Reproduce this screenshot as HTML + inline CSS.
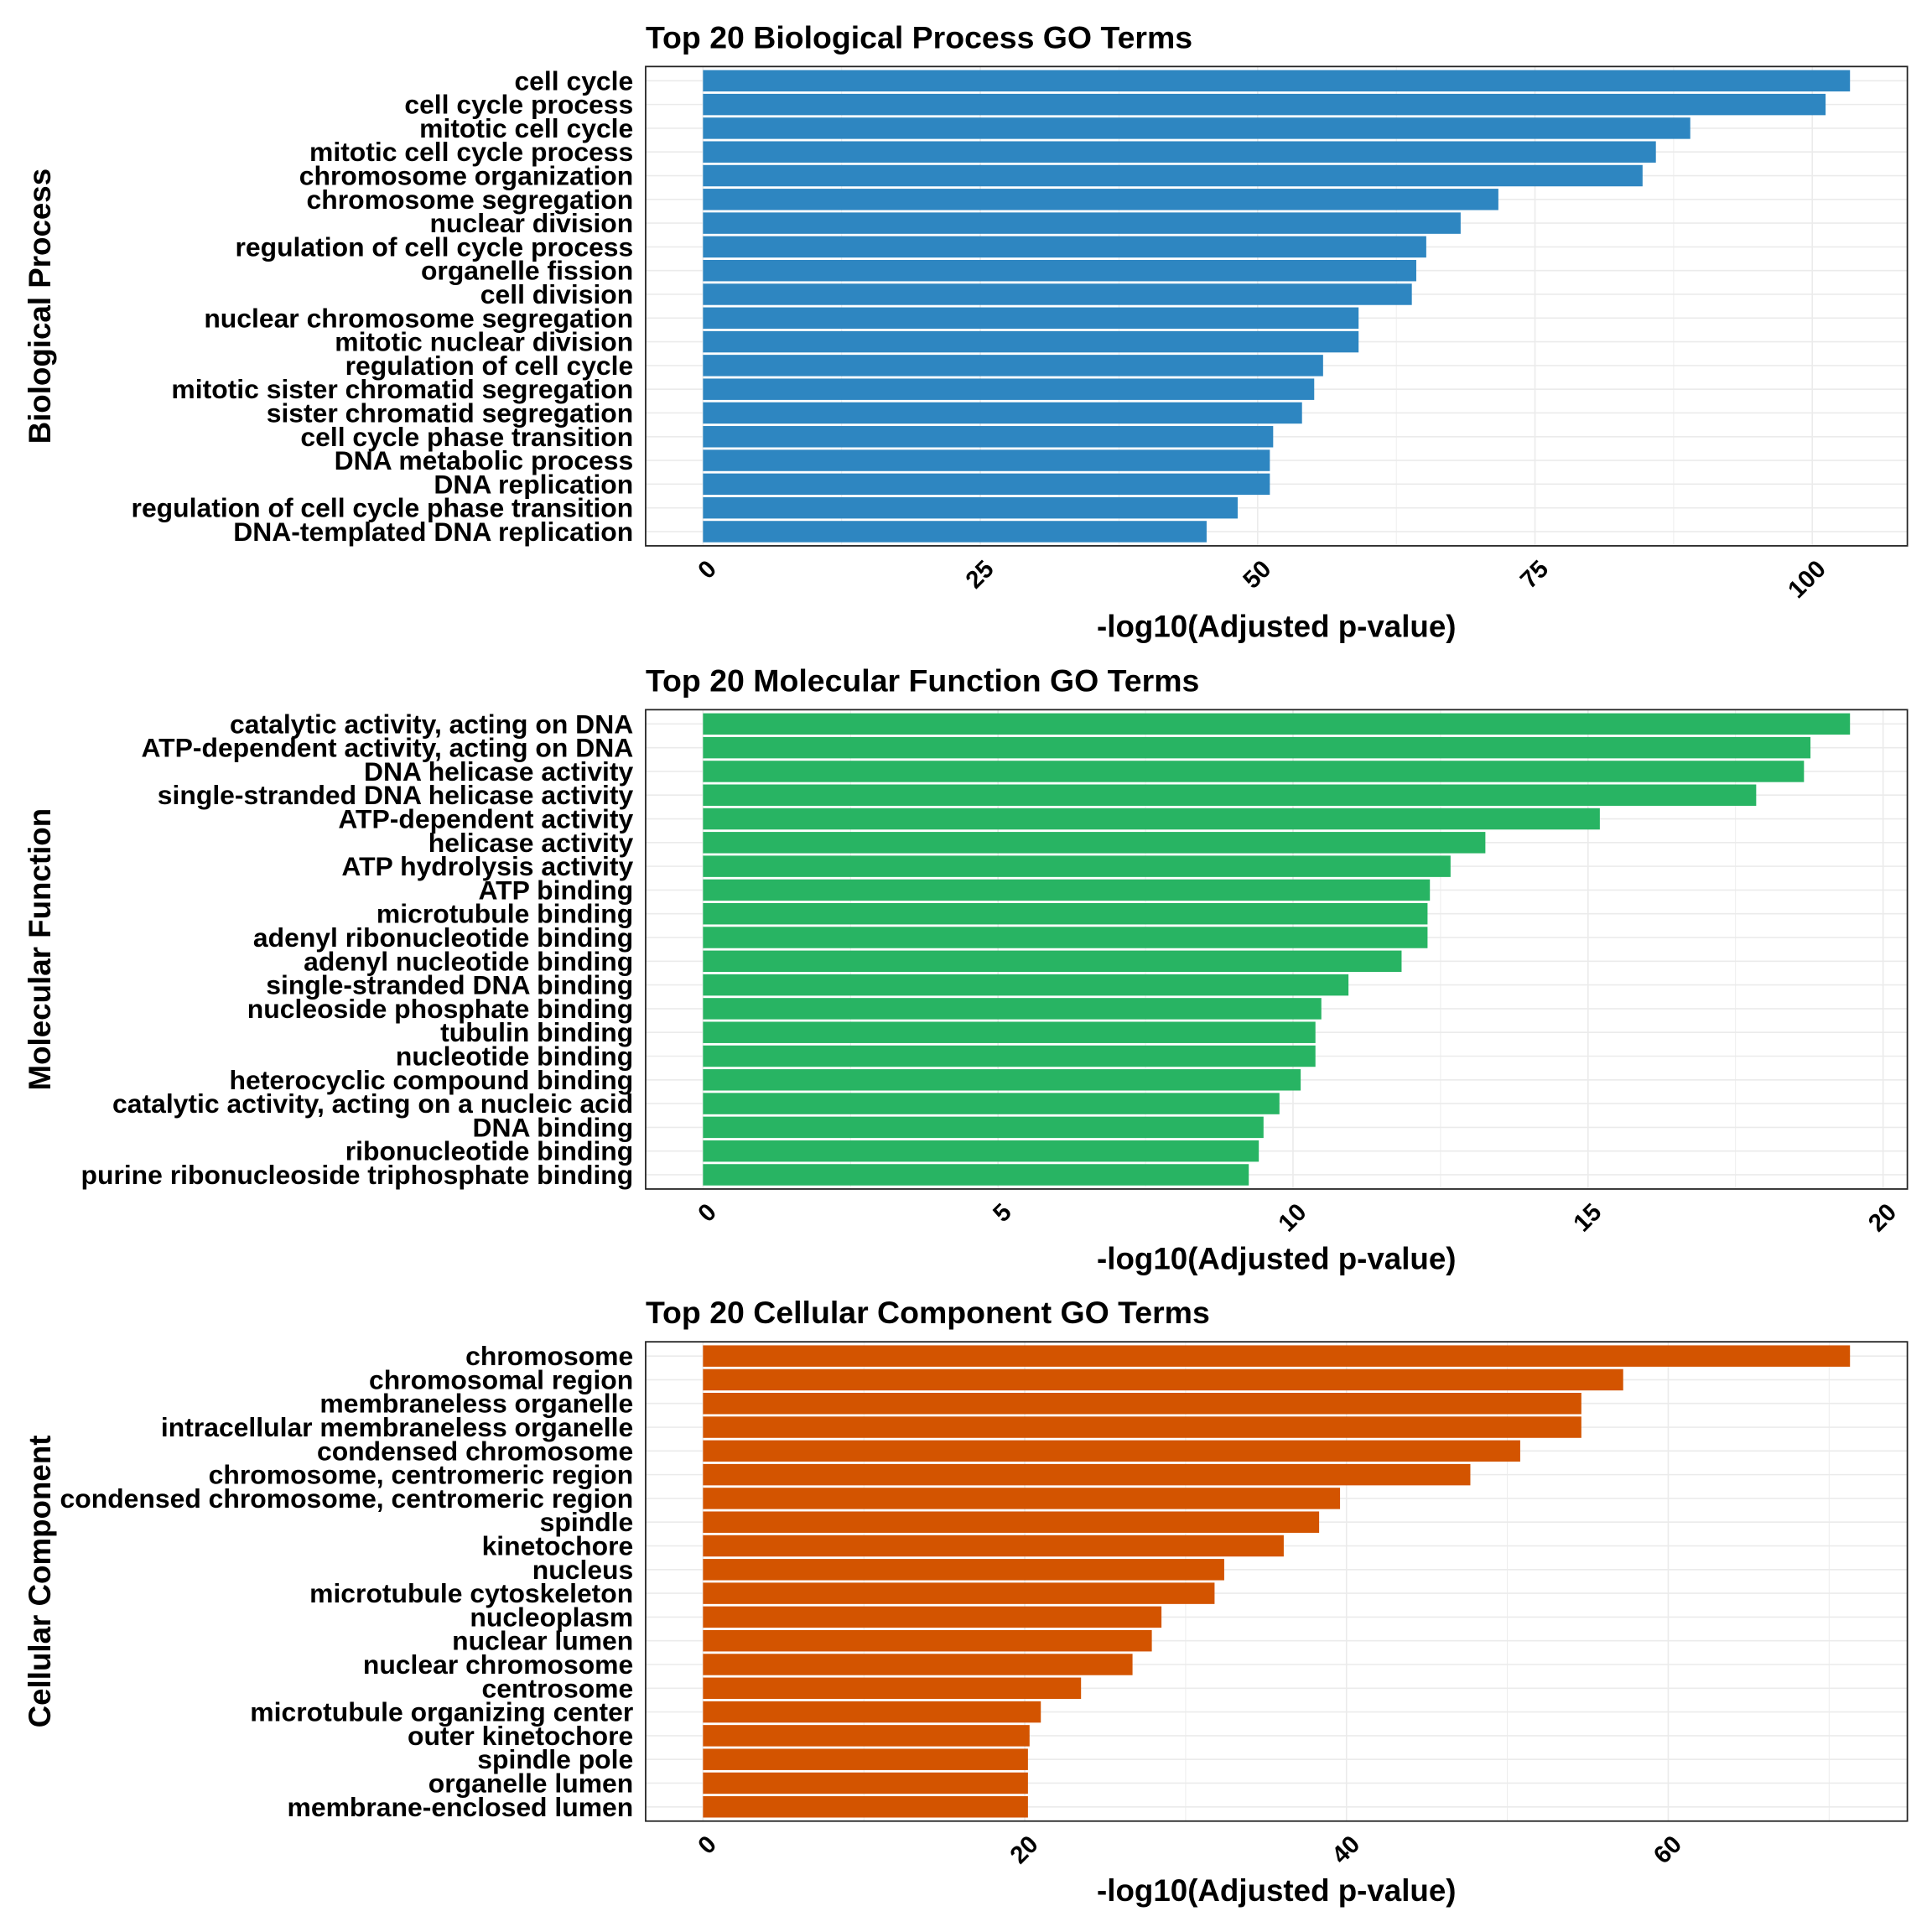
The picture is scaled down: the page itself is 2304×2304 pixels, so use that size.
<!DOCTYPE html>
<html><head><meta charset="utf-8"><style>
html,body{margin:0;padding:0;background:#fff}
svg{display:block;font-family:"Liberation Sans",Arial,sans-serif;font-weight:bold}
</style></head><body>
<svg id="chart" width="2304" height="2304" viewBox="0 0 1568 1568" xmlns="http://www.w3.org/2000/svg"></svg>
<script>
const bpTerms=["cell cycle","cell cycle process","mitotic cell cycle","mitotic cell cycle process","chromosome organization","chromosome segregation","nuclear division","regulation of cell cycle process","organelle fission","cell division","nuclear chromosome segregation","mitotic nuclear division","regulation of cell cycle","mitotic sister chromatid segregation","sister chromatid segregation","cell cycle phase transition","DNA metabolic process","DNA replication","regulation of cell cycle phase transition","DNA-templated DNA replication"];
const bpValues=[103.4,101.2,89,85.9,84.7,71.7,68.3,65.2,64.3,63.9,59.1,59.1,55.9,55.1,54,51.4,51.1,51.1,48.2,45.4];
const bpTicks=[0,25,50,75,100];
const mfTerms=["catalytic activity, acting on DNA","ATP-dependent activity, acting on DNA","DNA helicase activity","single-stranded DNA helicase activity","ATP-dependent activity","helicase activity","ATP hydrolysis activity","ATP binding","microtubule binding","adenyl ribonucleotide binding","adenyl nucleotide binding","single-stranded DNA binding","nucleoside phosphate binding","tubulin binding","nucleotide binding","heterocyclic compound binding","catalytic activity, acting on a nucleic acid","DNA binding","ribonucleotide binding","purine ribonucleoside triphosphate binding"];
const mfValues=[19.44,18.77,18.66,17.85,15.2,13.26,12.67,12.32,12.28,12.28,11.84,10.94,10.48,10.38,10.38,10.13,9.77,9.5,9.42,9.25];
const mfTicks=[0,5,10,15,20];
const ccTerms=["chromosome","chromosomal region","membraneless organelle","intracellular membraneless organelle","condensed chromosome","chromosome, centromeric region","condensed chromosome, centromeric region","spindle","kinetochore","nucleus","microtubule cytoskeleton","nucleoplasm","nuclear lumen","nuclear chromosome","centrosome","microtubule organizing center","outer kinetochore","spindle pole","organelle lumen","membrane-enclosed lumen"];
const ccValues=[71.3,57.2,54.6,54.6,50.8,47.7,39.6,38.3,36.1,32.4,31.8,28.5,27.9,26.7,23.5,21.0,20.3,20.2,20.2,20.2];
const ccTicks=[0,20,40,60];

const NS="http://www.w3.org/2000/svg";
const svg=document.getElementById('chart');
function mk(tag,attrs,parent,txt){const e=document.createElementNS(NS,tag);for(const k in attrs)e.setAttribute(k,attrs[k]);if(txt!==undefined)e.textContent=txt;(parent||svg).appendChild(e);return e;}

function panel(key,title,ylab,terms,values,ticks,color,top){
  const L=524,R=1548,T=top,B=top+389;
  const g=mk('g',{});
  
  
  const maxV=Math.max(...values);
  const lo=-maxV*0.05, hi=maxV*1.05;
  const x=v=>L+(v-lo)/(hi-lo)*(R-L);
  const n=terms.length;
  const step=(B-T)/(n+0.2);
  const y=i=>T+step*(0.6+i);
  const step2=ticks[1]-ticks[0];
  for(let v=ticks[0]-step2/2; v<=hi; v+=step2/2){
    if(v<lo)continue;
    const gl=mk('line',{x1:x(v),x2:x(v),y1:T,y2:B,stroke:'#ebebeb','stroke-width':Math.abs((v/step2)%1)<1e-6?1.1:0.6},g);
    
    
  }
  for(let i=0;i<n;i++){
    const hl=mk('line',{x1:L,x2:R,y1:y(i),y2:y(i),stroke:'#ebebeb','stroke-width':1.1},g);
    
    
  }
  const bh=step*0.9;
  for(let i=0;i<n;i++){
    const r=mk('rect',{x:x(0),y:y(i)-bh/2,width:x(values[i])-x(0),height:bh,fill:color},g);
    
    
    const t=mk('text',{x:L-10,y:y(i)+7.5,'text-anchor':'end','font-size':21.7,fill:'#000'},g,terms[i]);
    
    
  }
  const bd=mk('rect',{x:L,y:T,width:R-L,height:B-T,fill:'none',stroke:'#222','stroke-width':1.2},g);
  
  
  let maxLen=0;
  ticks.forEach(v=>{
    const tx=x(v)+2, ty=B+10;
    maxLen=Math.max(maxLen,String(v).length);
    const t=mk('text',{x:tx,y:ty,'text-anchor':'end','font-size':20,transform:`rotate(-45 ${tx} ${ty})`,'dominant-baseline':'hanging'},g,String(v));
    
    
  });
  const xt=mk('text',{x:(L+R)/2,y:B+(maxLen>=3?74:65),'text-anchor':'middle','font-size':25},g,'-log10(Adjusted p-value)');
  
  
  const tt=mk('text',{x:L,y:T-15,'font-size':25.5},g,title);
  
  
  const cy=(T+B)/2;
  const yt=mk('text',{x:41,y:cy,'text-anchor':'middle','font-size':25,transform:`rotate(-90 41 ${cy})`},g,ylab);
  
  
}
panel('bp','Top 20 Biological Process GO Terms','Biological Process',bpTerms,bpValues,bpTicks,'#2E86C1',54);
panel('mf','Top 20 Molecular Function GO Terms','Molecular Function',mfTerms,mfValues,mfTicks,'#28B463',576);
panel('cc','Top 20 Cellular Component GO Terms','Cellular Component',ccTerms,ccValues,ccTicks,'#D35400',1089);
</script>
</body></html>
